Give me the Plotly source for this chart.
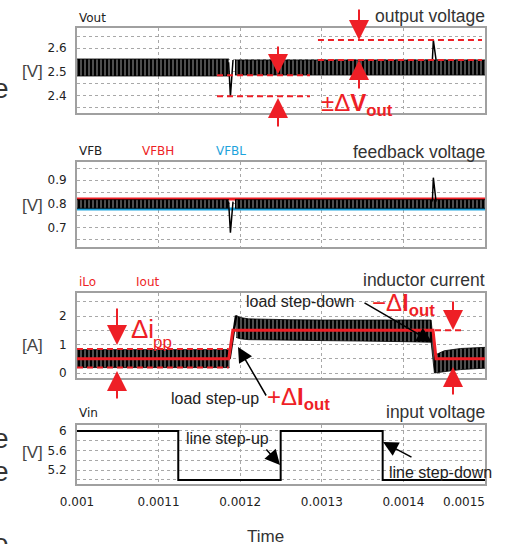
import plotly.graph_objects as go

# ---------------- data ----------------
x_grid = [0.001, 0.0011, 0.0012, 0.0013, 0.0014]
x_tick_text = ["0.001", "0.0011", "0.0012", "0.0013", "0.0014"]
x_last_tick = 0.0015
x_range = [0.001, 0.0015]

# output voltage ripple envelope (two segments, split at the load step)
vout_t_a = [0.001, 0.0011862]
vout_hi_a = [2.554, 2.554]
vout_lo_a = [2.482, 2.482]
vout_t_b = [0.0011936, 0.0015]
vout_hi_b = [2.550, 2.550]
vout_lo_b = [2.486, 2.486]
vout_dip_t = [0.0011858, 0.0011880, 0.0011912]
vout_dip_v = [2.54, 2.395, 2.55]
vout_spike_t = [0.0014355, 0.0014367, 0.0014400]
vout_spike_v = [2.55, 2.634, 2.55]
vout_dev_lo_t = [0.0011716, 0.0012855]
vout_dev_lo_a = [2.485, 2.485]
vout_dev_lo_b = [2.396, 2.396]
vout_dev_hi_t = [0.0012953, 0.0014963]
vout_dev_hi_a = [2.634, 2.634]
vout_dev_hi_b = [2.550, 2.550]

# feedback voltage
vfb_t_a = [0.001, 0.0011862]
vfb_t_b = [0.0011936, 0.0015]
vfb_hi = [0.818, 0.818]
vfb_lo = [0.782, 0.782]
vfb_dip_t = [0.0011858, 0.0011880, 0.0011912]
vfb_dip_v = [0.81, 0.68, 0.81]
vfb_spike_t = [0.0014355, 0.0014367, 0.0014400]
vfb_spike_v = [0.81, 0.91, 0.81]
vfbh_t = [0.001, 0.0015]
vfbh_v = [0.821, 0.821]
vfbl_v = [0.779, 0.779]

# inductor current ripple envelope
ilo_t_a = [0.001, 0.001187]
ilo_hi_a = [0.82, 0.82]
ilo_lo_a = [0.19, 0.19]
ilo_t_b = [0.001195, 0.0012, 0.00121, 0.00123, 0.00126, 0.0013, 0.00135, 0.0014,
           0.001434, 0.001438, 0.00145, 0.00147, 0.0015]
ilo_hi_b = [2.02, 1.95, 1.90, 1.88, 1.87, 1.86, 1.86, 1.86,
            1.86, 0.62, 0.78, 0.86, 0.90]
ilo_lo_b = [1.25, 1.20, 1.17, 1.16, 1.15, 1.14, 1.12, 1.10,
            1.08, 0.00, 0.05, 0.12, 0.17]
ilo_ramp_t = [0.001187, 0.001195]
ilo_ramp_v = [0.50, 2.02]
iout_t = [0.001, 0.001186, 0.001191, 0.0014363, 0.00144, 0.0015]
iout_v = [0.5, 0.5, 1.5, 1.5, 0.5, 0.5]
dipp_t = [0.001, 0.001186]
dipp_hi = [0.84, 0.84]
dipp_lo = [0.19, 0.19]
diout_t = [0.0014387, 0.0014730]
diout_v = [1.5, 1.5]

# input voltage
vin_t = [0.001, 0.0011241, 0.0011241, 0.0012496, 0.0012496, 0.0013746, 0.0013746, 0.0015]
vin_v = [6, 6, 5, 5, 6, 6, 5, 5]

# y-axis grid / tick labels
y1_vals = [2.35, 2.4, 2.45, 2.5, 2.55, 2.6, 2.65]
y1_text = ["", "2.4", "", "2.5", "", "2.6", ""]
y2_vals = [0.65, 0.7, 0.75, 0.8, 0.85, 0.9, 0.95]
y2_text = ["", "0.7", "", "0.8", "", "0.9", ""]
y3_vals = [0, 0.5, 1, 1.5, 2, 2.5]
y3_text = ["0", "", "1", "", "2", ""]
y4_vals = [5.0, 5.2, 5.4, 5.6, 5.8, 6.0]
y4_text = ["", "5.2", "", "5.6", "", "6"]

# ---------------- styling ----------------
W, H = 508, 544
L, R = 77, 23
PW = W - L - R
RED = "#ee1f26"
BLUE = "#1ea3dc"
DARK = "#333333"
GRID = "#a8a8a8"
FRAME = "#a0a0a0"
SMALL = dict(family="DejaVu Sans", size=12, color="#222222")
ANN = dict(family="Liberation Sans", size=16, color="#222222")
TITLE = dict(family="Liberation Sans", size=17.5, color=DARK)
BIG = dict(family="Liberation Sans", size=24, color=RED)


def px(xp):
    return (xp - L) / PW


def py(yp):
    return 1 - yp / H


fig = go.Figure()


def band(t, lo, hi, ax):
    fig.add_trace(go.Scatter(x=t, y=lo, mode="lines", line=dict(width=0.8, color="black"),
                             xaxis="x" + ax, yaxis="y" + ax, showlegend=False, hoverinfo="skip"))
    fig.add_trace(go.Scatter(x=t, y=hi, mode="lines", line=dict(width=0.8, color="black"),
                             fill="tonexty", fillcolor="black",
                             fillpattern=dict(shape="|", fgcolor="black", bgcolor="white",
                                              size=4, solidity=0.85),
                             xaxis="x" + ax, yaxis="y" + ax, showlegend=False, hoverinfo="skip"))


def line(t, v, ax, color="black", width=1.5, dash=None):
    fig.add_trace(go.Scatter(x=t, y=v, mode="lines",
                             line=dict(color=color, width=width, dash=dash),
                             xaxis="x" + ax, yaxis="y" + ax, showlegend=False, hoverinfo="skip"))


DASH = "6px,4px"
# panel 1
band(vout_t_a, vout_lo_a, vout_hi_a, "")
band(vout_t_b, vout_lo_b, vout_hi_b, "")
line(vout_dip_t, vout_dip_v, "")
line(vout_spike_t, vout_spike_v, "")
line(vout_dev_lo_t, vout_dev_lo_a, "", RED, 2, DASH)
line(vout_dev_lo_t, vout_dev_lo_b, "", RED, 2, DASH)
line(vout_dev_hi_t, vout_dev_hi_a, "", RED, 2, DASH)
line(vout_dev_hi_t, vout_dev_hi_b, "", RED, 2, DASH)
# panel 2
line(vfbh_t, vfbh_v, "2", RED, 3)
line(vfbh_t, vfbl_v, "2", BLUE, 3)
band(vfb_t_a, vfb_lo, vfb_hi, "2")
band(vfb_t_b, vfb_lo, vfb_hi, "2")
line(vfb_dip_t, vfb_dip_v, "2")
line(vfb_spike_t, vfb_spike_v, "2")
# panel 3
band(ilo_t_a, ilo_lo_a, ilo_hi_a, "3")
band(ilo_t_b, ilo_lo_b, ilo_hi_b, "3")
line(ilo_ramp_t, ilo_ramp_v, "3", "black", 2.5)
line(iout_t, iout_v, "3", RED, 3)
line(dipp_t, dipp_hi, "3", RED, 2, DASH)
line(dipp_t, dipp_lo, "3", RED, 2, DASH)
line(diout_t, diout_v, "3", RED, 2, DASH)
# panel 4
line(vin_t, vin_v, "4", "black", 2)

# panel pixel extents (top, bottom)
panels = [(28.3, 113.3), (161.7, 246.7), (292.7, 378.3), (425.0, 484.3)]
yranges = [[2.324, 2.684], [0.621, 0.977], [-0.186, 2.818], [4.91, 6.12]]
yticks = [(y1_vals, y1_text), (y2_vals, y2_text), (y3_vals, y3_text), (y4_vals, y4_text)]

layout = dict(width=W, height=H, margin=dict(l=L, r=R, t=0, b=0),
              paper_bgcolor="white", plot_bgcolor="white", showlegend=False,
              template="none")
for i, ((top, bot), yr, (tv, tt)) in enumerate(zip(panels, yranges, yticks)):
    sfx = "" if i == 0 else str(i + 1)
    layout["xaxis" + sfx] = dict(
        domain=[0, 1], anchor="y" + sfx, range=x_range, tickmode="array",
        tickvals=x_grid, ticktext=x_tick_text if i == 3 else [""] * len(x_grid),
        showticklabels=(i == 3), ticks="", showgrid=True, gridcolor=GRID, griddash="dot",
        gridwidth=1, zeroline=False, showline=True, mirror=True, linecolor=FRAME,
        linewidth=2, tickfont=SMALL, automargin=False, ticklabelstandoff=5)
    layout["yaxis" + sfx] = dict(
        domain=[py(bot), py(top)], anchor="x" + sfx, range=yr, tickmode="array",
        tickvals=tv, ticktext=tt, ticks="", showgrid=True, gridcolor=GRID, griddash="dot",
        gridwidth=1, zeroline=False, showline=True, mirror=True, linecolor=FRAME,
        linewidth=2, tickfont=SMALL, automargin=False, ticklabelstandoff=6)
    if i > 0:
        layout["xaxis" + sfx]["matches"] = "x"
fig.update_layout(**layout)

ann = []


def text(s, xp, yp, font, xanchor="left", yanchor="middle"):
    ann.append(dict(text=s, x=px(xp), y=py(yp), xref="paper", yref="paper",
                    xanchor=xanchor, yanchor=yanchor, showarrow=False, font=font))


def arrow(tip, tail, color, width=2, size=1.5, head=2):
    ann.append(dict(text="", x=px(tip[0]), y=py(tip[1]), xref="paper", yref="paper",
                    ax=tail[0] - tip[0], ay=tail[1] - tip[1], showarrow=True,
                    arrowhead=head, arrowsize=size, arrowwidth=width, arrowcolor=color))


# series labels
text("Vout", 77, 18, SMALL)
text("VFB", 77, 151, SMALL)
text("VFBH", 140, 151, dict(SMALL, color=RED))
text("VFBL", 214, 151, dict(SMALL, color=BLUE))
text("iLo", 77, 282, dict(SMALL, color=RED))
text("Iout", 134, 282, dict(SMALL, color=RED))
text("Vin", 77, 413, SMALL)
# panel titles
text("output voltage", 487, 16, TITLE, "right")
text("feedback voltage", 487, 152, TITLE, "right")
text("inductor current", 487, 280, TITLE, "right")
text("input voltage", 487, 412, TITLE, "right")
# units
UNIT = dict(family="Liberation Sans", size=17, color="#444444")
text("[V]", 32, 72, UNIT, "center")
text("[V]", 32, 205, UNIT, "center")
text("[A]", 32, 345, UNIT, "center")
text("[V]", 32, 452, UNIT, "center")
# x-axis extras
text("0.0015", 487, 502, SMALL, "right")
text("Time", 265, 536, dict(TITLE, size=17), "center")
# clipped letters on the left edge
EDGE = dict(family="Liberation Sans", size=28, color=DARK)
for yy in [89, 438, 471, 543]:
    text("e", -9, yy, EDGE)

# red delta labels
text("±Δ<b>V</b><sub><b>out</b></sub>", 319, 87, BIG, "left", "top")
text("Δi", 129, 312, dict(BIG, size=26), "left", "top")
text("pp", 151, 342, dict(BIG, size=17), "left", "middle")
text("+Δ<b>I</b><sub><b>out</b></sub>", 265, 381, BIG, "left", "top")
text("−Δ<b>I</b><sub><b>out</b></sub>", 370, 287, BIG, "left", "top")

# red arrows
for tip, tail in [((278, 74), (278, 45)), ((278, 98), (278, 128)),
                  ((359, 40), (359, 8)), ((359, 60), (359, 90)),
                  ((117, 345), (117, 307)), ((117, 371), (117, 400)),
                  ((453, 330), (453, 300)), ((453, 367), (453, 396))]:
    arrow(tip, tail, RED, 2, 2.0)

# black annotations
text("load step-down", 244, 301, ANN)
text("load step-up", 169, 398, ANN)
text("line step-up", 184, 438, ANN)
text("line step-down", 387, 472, ANN)
arrow((432, 342), (363, 302), "black", 1.5, 2.0)
arrow((238, 347), (267, 397), "black", 1.5, 2.0)
arrow((280, 465), (265, 448), "black", 1.5, 2.0)
arrow((383, 442), (413, 458), "black", 1.5, 2.0)

fig.update_layout(annotations=ann)
fig.write_html("out.html", config={"displayModeBar": False},
               post_script="document.body.style.margin='0px';document.body.style.overflow='hidden';")
